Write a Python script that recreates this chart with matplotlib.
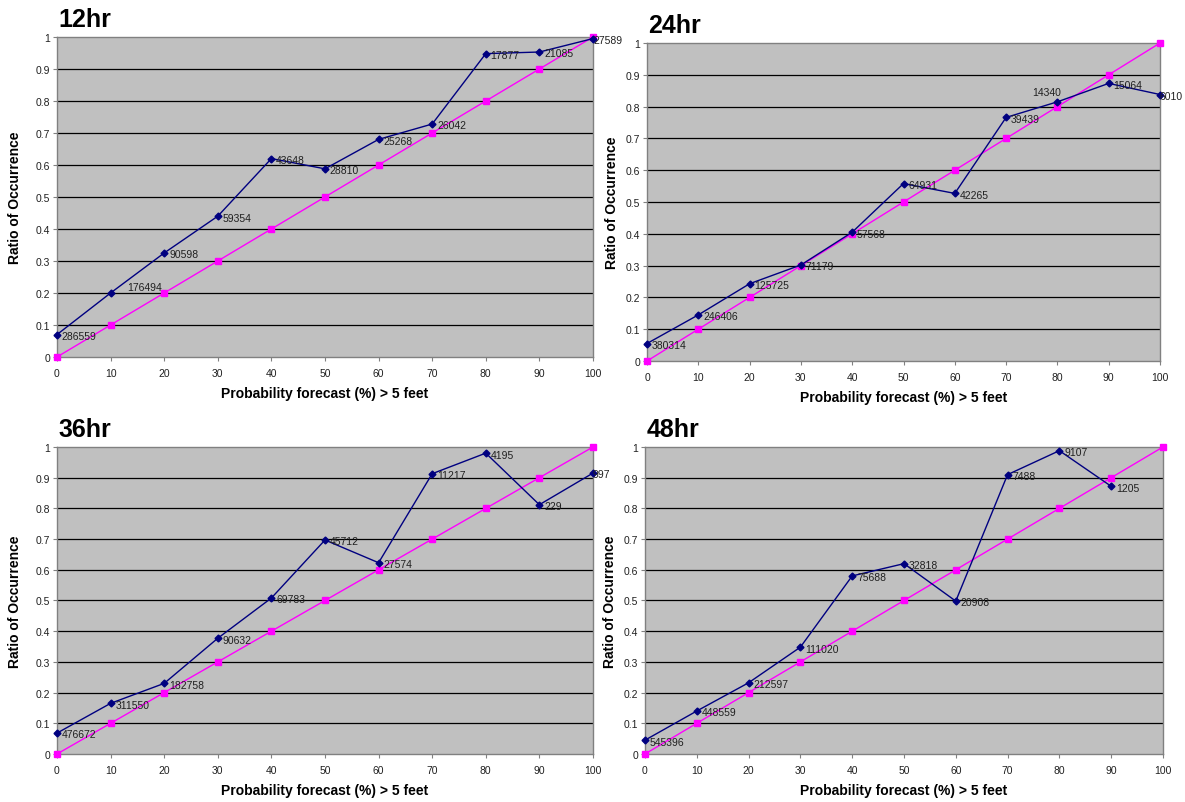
import numpy as np
import matplotlib
matplotlib.use('Agg')
import matplotlib.pyplot as plt

# --- Data ---
prob = [0, 10, 20, 30, 40, 50, 60, 70, 80, 90, 100]
perfect = [0, 0.1, 0.2, 0.3, 0.4, 0.5, 0.6, 0.7, 0.8, 0.9, 1.0]

obs_12 = [0.07, 0.20, 0.325, 0.44, 0.62, 0.588, 0.68, 0.728, 0.948, 0.953, 0.995]
cnt_12 = ['286559', '176494', '90598', '59354', '43648', '28810', '25268', '26042',
          '17877', '21085', '27589']

obs_24 = [0.055, 0.145, 0.243, 0.302, 0.405, 0.558, 0.527, 0.766, 0.815, 0.873, 0.838]
cnt_24 = ['380314', '246406', '125725', '71179', '57568', '64931', '42265', '39439',
          '14340', '15064', '6010']

obs_36 = [0.068, 0.165, 0.23, 0.377, 0.508, 0.697, 0.623, 0.913, 0.98, 0.812, 0.915]
cnt_36 = ['476672', '311550', '182758', '90632', '69783', '45712', '27574', '11217',
          '4195', '229', '997']

prob_48 = [0, 10, 20, 30, 40, 50, 60, 70, 80, 90]
obs_48 = [0.045, 0.14, 0.232, 0.348, 0.58, 0.62, 0.498, 0.91, 0.988, 0.872]
cnt_48 = ['545396', '448559', '212597', '111020', '75688', '32818', '20908', '7488',
          '9107', '1205']

NAVY = '#000080'
MAGENTA = '#FF00FF'
GRAY = '#C0C0C0'

plt.rcParams['font.family'] = ['Liberation Sans', 'DejaVu Sans']

fig = plt.figure(figsize=(11.85, 8.03), dpi=100)

# [left, bottom, width, height] for each panel, plus ylabel pad
panels = [
    ('12hr', [0.0481, 0.5542, 0.4523, 0.3985], prob, obs_12, cnt_12, 10),
    ('24hr', [0.5460, 0.5492, 0.4329, 0.3960], prob, obs_24, cnt_24, 5),
    ('36hr', [0.0481, 0.0598, 0.4523, 0.3823], prob, obs_36, cnt_36, 10),
    ('48hr', [0.5443, 0.0598, 0.4371, 0.3823], prob_48, obs_48, cnt_48, 5),
]

# label nudges (points) where Excel moved a label off the default right side
nudge = {('12hr', 1): (12, 4), ('24hr', 8): (-18, 7),
         ('12hr', 10): (0, -1), ('24hr', 10): (0, -1), ('36hr', 10): (0, -1)}

for name, rect, xs, ys, counts, ypad in panels:
    ax = fig.add_axes(rect)
    ax.set_facecolor(GRAY)
    ax.set_xlim(0, 100)
    ax.set_ylim(0, 1)

    for v in np.arange(0.1, 1.0, 0.1):
        ax.axhline(v, color='black', lw=0.9, zorder=1)

    ax.plot(prob, perfect, color=MAGENTA, lw=1.0, marker='s', ms=4.5,
            mec=MAGENTA, mfc=MAGENTA, zorder=3, clip_on=False)
    ax.plot(xs, ys, color=NAVY, lw=1.0, marker='D', ms=3.5,
            mec=NAVY, mfc=NAVY, zorder=4, clip_on=False)

    for i, (x, y, c) in enumerate(zip(xs, ys, counts)):
        dx, dy = nudge.get((name, i), (3.5, -1))
        ax.annotate(c, (x, y), xytext=(dx, dy), textcoords='offset points',
                    fontsize=7.5, color='#202020', va='center', ha='left',
                    annotation_clip=False, zorder=5)

    ax.set_xticks(range(0, 101, 10))
    ax.set_yticks(np.arange(0, 1.01, 0.1))
    ax.set_yticklabels(['0'] + ['%.1f' % v for v in np.arange(0.1, 0.95, 0.1)] + ['1'])
    ax.tick_params(axis='both', labelsize=7.5, length=3, width=0.8, color='#808080',
                   labelcolor='#202020', direction='out')
    ax.tick_params(axis='x', pad=5)
    ax.tick_params(axis='y', pad=2)
    for s in ax.spines.values():
        s.set_color('#808080')
        s.set_linewidth(1.0)

    ax.set_xlabel('Probability forecast (%) > 5 feet', fontsize=10, fontweight='bold',
                  labelpad=6)
    ax.set_ylabel('Ratio of Occurrence', fontsize=10, fontweight='bold', labelpad=ypad)

    l, b, w, h = rect
    fig.text(l + 0.001, b + h + 0.008, name, fontsize=18, fontweight='bold',
             ha='left', va='bottom')

fig.savefig('out.png', dpi=100)
